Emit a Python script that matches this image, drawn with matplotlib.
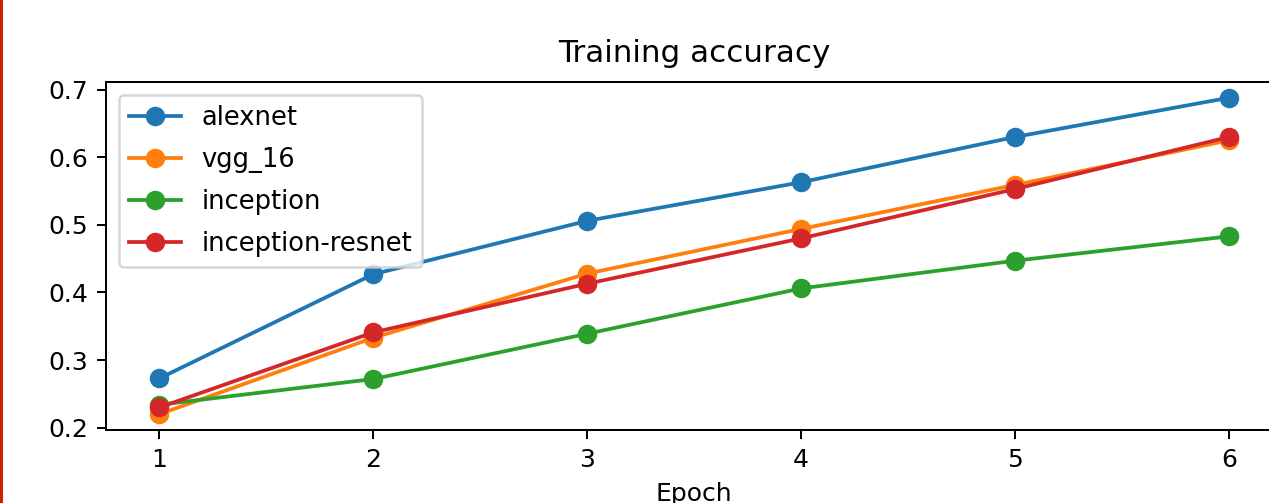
import matplotlib
matplotlib.use("Agg")
import matplotlib.pyplot as plt
from matplotlib.lines import Line2D

epochs = [1, 2, 3, 4, 5, 6]
alexnet = [0.273, 0.427, 0.506, 0.563, 0.630, 0.688]
vgg_16 = [0.220, 0.333, 0.428, 0.494, 0.559, 0.625]
inception = [0.234, 0.272, 0.339, 0.406, 0.447, 0.483]
inception_resnet = [0.230, 0.341, 0.413, 0.480, 0.553, 0.630]

dpi = 180
fig = plt.figure(figsize=(1269 / dpi, 503 / dpi), dpi=dpi)
ax = fig.add_axes([0.0835, 0.1451, 0.927, 0.692])

ms = 6.8
ax.plot(epochs, alexnet, marker='o', ms=ms, label='alexnet')
ax.plot(epochs, vgg_16, marker='o', ms=ms, label='vgg_16')
ax.plot(epochs, inception, marker='o', ms=ms, label='inception')
ax.plot(epochs, inception_resnet, marker='o', ms=ms, label='inception-resnet')

ax.set_title('Training accuracy', fontsize=12.4, pad=8)
ax.set_xlabel('Epoch')
ax.set_yticks([0.2, 0.3, 0.4, 0.5, 0.6, 0.7])
ax.legend(loc='upper left', fontsize=10.3, labelspacing=0.62)

# red edge line on the left side
fig.add_artist(Line2D([0.001, 0.001], [0, 1], transform=fig.transFigure,
                      color='#cc2200', linewidth=1.2))

fig.savefig('out.png', dpi=dpi)
